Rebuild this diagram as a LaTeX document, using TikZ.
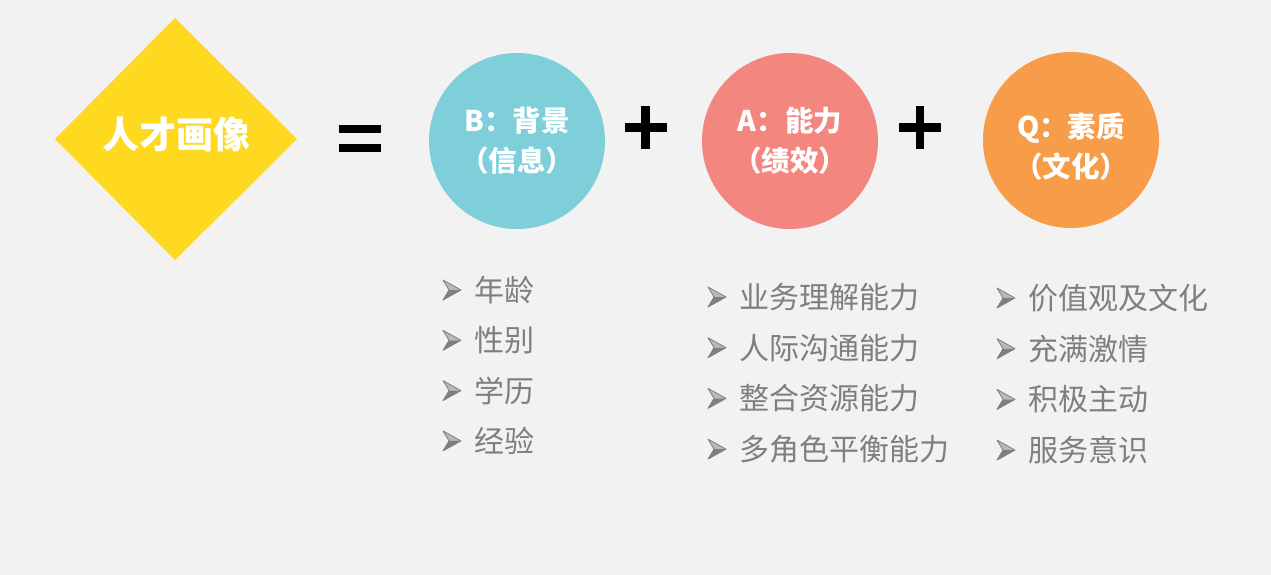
\documentclass[tikz,border=0pt]{standalone}
\usepackage{fontspec}
\usepackage{tikz}
\usetikzlibrary{shapes.geometric}
\newfontfamily\cjk{Noto Sans CJK SC}
\definecolor{bgc}{HTML}{F2F2F2}
\definecolor{yel}{HTML}{FED91F}
\definecolor{tealc}{HTML}{7ECFDA}
\definecolor{pinkc}{HTML}{F3877F}
\definecolor{orac}{HTML}{F79D4A}
\definecolor{txtc}{HTML}{7F7F7F}
\tikzset{
  ball/.style={circle,minimum size=176pt,inner sep=0pt,text=white,align=center,
    font=\cjk\bfseries\fontsize{28.5}{40}\selectfont},
  balltext/.style={inner sep=0pt,text=white,align=center,
    font=\cjk\bfseries\fontsize{28.5}{40}\selectfont},
  item/.style={anchor=west,inner sep=0pt,text=txtc,font=\cjk\fontsize{30}{30}\selectfont},
  arrowmark/.pic={
    \fill[txtc!55] (-9,-10) -- (9,0) -- (-3,0) -- cycle;
    \fill[txtc] (-3,0) -- (9,0) -- (-9,10) -- cycle;
    \draw[txtc,line width=0.8pt,line join=round] (-9,-10) -- (9,0) -- (-9,10) -- (-3,0) -- cycle;
  }
}
\begin{document}
\begin{tikzpicture}[x=1pt,y=-1pt]
			\fill[bgc] (0,0) rectangle (1271,575);
			\useasboundingbox (0,0) rectangle (1271,575);
			% left side
			\fill[yel] (175,18) -- (297,139) -- (175,260) -- (55,139) -- cycle;
			\node[text=white,font=\cjk\bfseries\fontsize{37}{40}\selectfont] (title) at (176,134) {人才画像};
			\fill[black] (339,125) rectangle (381,133.5);
			\fill[black] (339,143.5) rectangle (381,152);
			% the three circles
			\node[ball,fill=tealc] (B) at (517,141) {B：背景\\（信息）};
			\node[ball,fill=pinkc] (A) at (790,141) {A：能力\\（绩效）};
			\node[ball,fill=orac] (Q) at (1071,140) {};
			\node[balltext] (Qt) at ([yshift=-7pt]Q.center) {Q：素质\\（文化）};
			\fill[black] (624.5,123.3) rectangle (666.5,131.7);
			\fill[black] (641.3,106.5) rectangle (649.7,148.5);
			\fill[black] (899,123.3) rectangle (941,131.7);
			\fill[black] (915.8,106.5) rectangle (924.2,148.5);
			% lists
			\foreach \t [count=\i] in {年龄,性别,学历,经验} {
			  \pic at (452,{290+50.3*(\i-1)}) {arrowmark};
			  \node[item] (b\i) at (474,{290+50.3*(\i-1)}) {\t};
			}
			\foreach \t [count=\i] in {业务理解能力,人际沟通能力,整合资源能力,多角色平衡能力} {
			  \pic at (717,{297+50.7*(\i-1)}) {arrowmark};
			  \node[item] (a\i) at (739,{297+50.7*(\i-1)}) {\t};
			}
			\foreach \t [count=\i] in {价值观及文化,充满激情,积极主动,服务意识} {
			  \pic at (1006,{298+50.7*(\i-1)}) {arrowmark};
			  \node[item] (q\i) at (1028,{298+50.7*(\i-1)}) {\t};
			}
\end{tikzpicture}
\end{document}
